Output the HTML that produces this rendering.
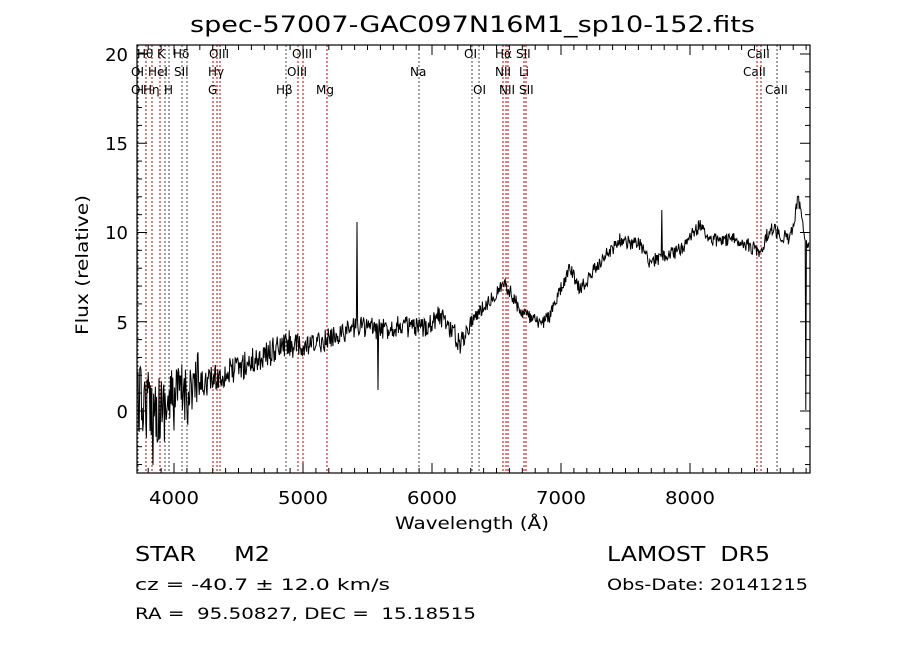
<!DOCTYPE html><html><head><style>body{margin:0;background:#fff}svg{display:block}text{font-family:"DejaVu Sans","Liberation Sans",sans-serif;fill:#000;white-space:pre}</style></head><body>
<svg id="s" width="900" height="649" xmlns="http://www.w3.org/2000/svg" xml:space="preserve">
<text x="190" y="32" font-size="22" textLength="565" lengthAdjust="spacingAndGlyphs">spec-57007-GAC097N16M1_sp10-152.fits</text>
<g id="lines"></g>
<path id="sp" fill="none" stroke="#000" stroke-width="1"/>
<rect x="137" y="45" width="673" height="428" fill="none" stroke="#000" stroke-width="1.2"/>
<g id="ticks" stroke="#000" stroke-width="1"></g>
<g font-size="18">
<text x="149" y="504" textLength="50" lengthAdjust="spacingAndGlyphs">4000</text><text x="278" y="504" textLength="50" lengthAdjust="spacingAndGlyphs">5000</text><text x="407" y="504" textLength="50" lengthAdjust="spacingAndGlyphs">6000</text><text x="536" y="504" textLength="50" lengthAdjust="spacingAndGlyphs">7000</text><text x="665" y="504" textLength="50" lengthAdjust="spacingAndGlyphs">8000</text>
</g>
<g font-size="18" text-anchor="end">
<text x="128" y="418">0</text><text x="128" y="329">5</text><text x="128" y="239">10</text><text x="128" y="150">15</text><text x="128" y="61">20</text>
</g>
<text x="395" y="529" font-size="17" textLength="154" lengthAdjust="spacingAndGlyphs">Wavelength (Å)</text>
<text transform="translate(88,335) rotate(-90)" font-size="17" textLength="140" lengthAdjust="spacingAndGlyphs">Flux (relative)</text>
<g font-size="12" id="lab"></g>
<text x="135" y="561" font-size="20" textLength="135" lengthAdjust="spacingAndGlyphs">STAR     M2</text>
<text x="607" y="561" font-size="20" textLength="163" lengthAdjust="spacingAndGlyphs">LAMOST  DR5</text>
<text x="135" y="590" font-size="16" textLength="255" lengthAdjust="spacingAndGlyphs">cz = -40.7 ± 12.0 km/s</text>
<text x="607" y="590" font-size="16" textLength="201" lengthAdjust="spacingAndGlyphs">Obs-Date: 20141215</text>
<text x="135" y="619" font-size="16" textLength="341" lengthAdjust="spacingAndGlyphs">RA =  95.50827, DEC =  15.18515</text>
</svg>
<script>
var NS="http://www.w3.org/2000/svg";
function el(t,a,p){var e=document.createElementNS(NS,t);for(var k in a)e.setAttribute(k,a[k]);p.appendChild(e);return e;}
var L=document.getElementById('lines');
[[138,0],[146,1],[152,1],[160,1],[165,0],[169,0],[182,0],[187,0],[213,1],[217,1],[220,1],[286,0],[298,1],[303,1],[327,1],[419,0],[472,0],[479,0],[503,1],[506,1],[508,1],[524,1],[526,1],[757,1],[761,1],[777,0]].forEach(function(l){
el('line',{x1:l[0],x2:l[0],y1:45,y2:473,stroke:l[1]?'#b00':'#444','stroke-width':1,'stroke-dasharray':'2,2'},L);});
var T=document.getElementById('ticks');
for(var w=3800;w<=8900;w+=100){var x=174+(w-4000)*0.129,m=w%1000==0?10:5;
el('line',{x1:x,x2:x,y1:473,y2:473-m},T);el('line',{x1:x,x2:x,y1:45,y2:45+m},T);}
for(var v=-3;v<=20;v++){var y=411-v*17.85,m=v%5==0?10:5;
el('line',{x1:137,x2:137+m,y1:y,y2:y},T);el('line',{x1:810,x2:810-m,y1:y,y2:y},T);}
var G=document.getElementById('lab');
[[137,58,"H\u03b8"],[157,58,"K"],[173,58,"H\u03b4"],[209,58,"OIII"],[292,58,"OIII"],[464,58,"OI"],[495,58,"H\u03b1"],[516,58,"SII"],[747,58,"CaII"],
[131,76,"OI"],[148,76,"HeI"],[174,76,"SII"],[208,76,"H\u03b3"],[287,76,"OIII"],[410,76,"Na"],[495,76,"NII"],[519,76,"Li"],[743,76,"CaII"],
[131,94,"OI"],[143,94,"H\u03b7"],[164,94,"H"],[208,94,"G"],[276,94,"H\u03b2"],[316,94,"Mg"],[473,94,"OI"],[499,94,"NII"],[519,94,"SII"],[765,94,"CaII"]].forEach(function(a){
var t=el('text',{x:a[0],y:a[1]},G);t.textContent=a[2];});
var K=[[138,400],[160,410],[180,395],[200,385],[230,372],[260,358],[290,343],[300,350],[330,338],[360,325],[380,330],[400,325],[420,330],[440,315],[452,330],[460,345],[470,322],[490,300],[505,283],[512,295],[520,310],[540,325],[550,315],[570,268],[580,290],[600,262],[620,240],[640,245],[650,262],[680,250],[700,225],[710,240],[740,240],[760,252],[770,228],[790,240],[798,200],[808,248]];
function base(x){for(var i=0;i<K.length-1;i++)if(x<=K[i+1][0]){var f=(x-K[i][0])/(K[i+1][0]-K[i][0]);return K[i][1]+f*(K[i+1][1]-K[i][1]);}return K[K.length-1][1];}
var s=12345;function r(){s=(s*16807)%2147483647;return s/2147483647-0.5;}
var d="";for(var x=138;x<=809;x+=0.6){var amp=x<200?70:(x<300?28:(x<470?22:14));var y=base(x)+r()*amp;
if(Math.abs(x-357)<0.3)y=222;if(Math.abs(x-378)<0.3)y=390;if(Math.abs(x-662)<0.3)y=210;if(Math.abs(x-806)<0.3)y=410;if(Math.abs(x-153)<0.3)y=465;
d+=(d?"L":"M")+x.toFixed(1)+","+y.toFixed(1);}
document.getElementById('sp').setAttribute('d',d);
</script>
</body></html>
